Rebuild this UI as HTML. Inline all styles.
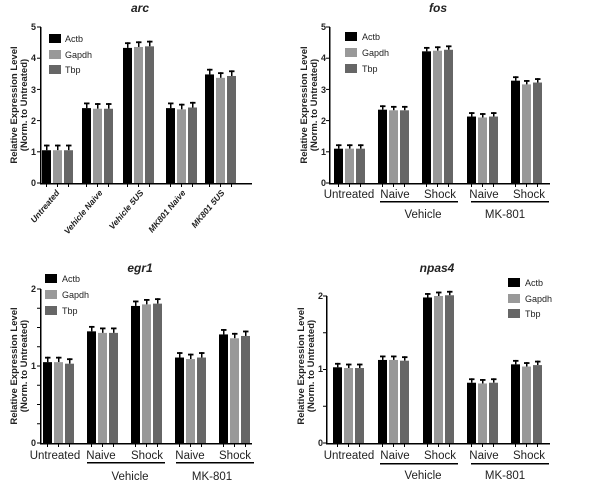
<!DOCTYPE html>
<html><head><meta charset="utf-8"><style>
html,body{margin:0;padding:0;background:#fff}
svg text{font-family:"Liberation Sans",Arial,sans-serif}
</style></head><body>
<svg id="s" width="601" height="492" xmlns="http://www.w3.org/2000/svg">
<g font-size="9" fill="#222">
<!-- arc -->
<text x="140" y="12" font-size="12" font-weight="bold" font-style="italic" text-anchor="middle">arc</text>
<text transform="translate(17,105) rotate(-90)" font-weight="bold" text-anchor="middle" font-size="9.5">Relative Expression Level</text>
<text transform="translate(27,105) rotate(-90)" font-weight="bold" text-anchor="middle" font-size="9.5">(Norm. to  Untreated)</text>
<text x="36" y="186" text-anchor="end" font-weight="bold">0</text>
<text x="36" y="155" text-anchor="end" font-weight="bold">1</text>
<text x="36" y="124" text-anchor="end" font-weight="bold">2</text>
<text x="36" y="93" text-anchor="end" font-weight="bold">3</text>
<text x="36" y="61" text-anchor="end" font-weight="bold">4</text>
<text x="36" y="30" text-anchor="end" font-weight="bold">5</text>
<g font-weight="bold" font-style="italic" font-size="8.5" text-anchor="end">
<text transform="translate(60,193) rotate(-50)">Untreated</text>
<text transform="translate(103,193) rotate(-50)">Vehicle Naive</text>
<text transform="translate(144,193) rotate(-50)">Vehicle 5US</text>
<text transform="translate(186,193) rotate(-50)">MK801 Naive</text>
<text transform="translate(225,193) rotate(-50)">MK801 5US</text>
</g>
<rect x="49" y="34" width="12" height="9" fill="#000"/><text x="65" y="42">Actb</text>
<rect x="49" y="50" width="12" height="9" fill="#999"/><text x="65" y="58">Gapdh</text>
<rect x="49" y="65" width="12" height="9" fill="#666"/><text x="65" y="73">Tbp</text>
<!-- fos -->
<text x="438" y="12" font-size="12" font-weight="bold" font-style="italic" text-anchor="middle">fos</text>
<text transform="translate(307,105) rotate(-90)" font-weight="bold" text-anchor="middle" font-size="9.5">Relative Expression Level</text>
<text transform="translate(317,105) rotate(-90)" font-weight="bold" text-anchor="middle" font-size="9.5">(Norm. to  Untreated)</text>
<text x="326" y="186" text-anchor="end" font-weight="bold">0</text>
<text x="326" y="155" text-anchor="end" font-weight="bold">1</text>
<text x="326" y="124" text-anchor="end" font-weight="bold">2</text>
<text x="326" y="93" text-anchor="end" font-weight="bold">3</text>
<text x="326" y="61" text-anchor="end" font-weight="bold">4</text>
<text x="326" y="30" text-anchor="end" font-weight="bold">5</text>
<g font-size="11.5" text-anchor="middle">
<text x="349" y="198">Untreated</text><text x="395" y="198">Naive</text><text x="440" y="198">Shock</text>
<text x="484" y="198">Naive</text><text x="529" y="198">Shock</text>
<text x="423" y="218">Vehicle</text><text x="505" y="218">MK-801</text>
</g>
<rect x="380" y="201" width="78" height="1.5" fill="#000"/><rect x="471" y="201" width="78" height="1.5" fill="#000"/>
<rect x="345" y="32" width="12" height="9" fill="#000"/><text x="362" y="40">Actb</text>
<rect x="345" y="48" width="12" height="9" fill="#999"/><text x="362" y="56">Gapdh</text>
<rect x="345" y="64" width="12" height="9" fill="#666"/><text x="362" y="72">Tbp</text>
<!-- egr1 -->
<text x="140" y="272" font-size="12" font-weight="bold" font-style="italic" text-anchor="middle">egr1</text>
<text transform="translate(17,366) rotate(-90)" font-weight="bold" text-anchor="middle" font-size="9.5">Relative Expression Level</text>
<text transform="translate(27,366) rotate(-90)" font-weight="bold" text-anchor="middle" font-size="9.5">(Norm. to  Untreated)</text>
<text x="36" y="446" text-anchor="end" font-weight="bold">0</text>
<text x="36" y="369" text-anchor="end" font-weight="bold">1</text>
<text x="36" y="292" text-anchor="end" font-weight="bold">2</text>
<g font-size="11.5" text-anchor="middle">
<text x="55" y="459">Untreated</text><text x="101" y="459">Naive</text><text x="147" y="459">Shock</text>
<text x="190" y="459">Naive</text><text x="235" y="459">Shock</text>
<text x="130" y="480">Vehicle</text><text x="212" y="480">MK-801</text>
</g>
<rect x="87" y="462" width="78" height="1.5" fill="#000"/><rect x="176" y="462" width="78" height="1.5" fill="#000"/>
<rect x="45" y="274" width="12" height="9" fill="#000"/><text x="62" y="282">Actb</text>
<rect x="45" y="290" width="12" height="9" fill="#999"/><text x="62" y="298">Gapdh</text>
<rect x="45" y="306" width="12" height="9" fill="#666"/><text x="62" y="314">Tbp</text>
<!-- npas4 -->
<text x="437" y="272" font-size="12" font-weight="bold" font-style="italic" text-anchor="middle">npas4</text>
<text transform="translate(304,366) rotate(-90)" font-weight="bold" text-anchor="middle" font-size="9.5">Relative Expression Level</text>
<text transform="translate(314,366) rotate(-90)" font-weight="bold" text-anchor="middle" font-size="9.5">(Norm. to  Untreated)</text>
<text x="323" y="446" text-anchor="end" font-weight="bold">0</text>
<text x="323" y="372" text-anchor="end" font-weight="bold">1</text>
<text x="323" y="299" text-anchor="end" font-weight="bold">2</text>
<g font-size="11.5" text-anchor="middle">
<text x="349" y="459">Untreated</text><text x="395" y="459">Naive</text><text x="440" y="459">Shock</text>
<text x="484" y="459">Naive</text><text x="529" y="459">Shock</text>
<text x="423" y="479">Vehicle</text><text x="505" y="479">MK-801</text>
</g>
<rect x="380" y="463" width="78" height="1.5" fill="#000"/><rect x="471" y="463" width="78" height="1.5" fill="#000"/>
<rect x="508" y="278" width="12" height="9" fill="#000"/><text x="525" y="286">Actb</text>
<rect x="508" y="294" width="12" height="9" fill="#999"/><text x="525" y="302">Gapdh</text>
<rect x="508" y="309" width="12" height="9" fill="#666"/><text x="525" y="317">Tbp</text>
</g>
<g id="b"></g>
</svg>
<script>
var P=[
 {ax:41,y0:183,pu:31.2,top:5,end:252,gs:[42,82,123,166,205],tk:5,
  v:[[1.05,1.05,1.05],[2.4,2.38,2.38],[4.33,4.36,4.38],[2.4,2.36,2.42],[3.48,3.37,3.43]],e:0.18},
 {ax:330,y0:183,pu:31.2,top:5,end:550,gs:[334,378,422,467,511],tk:5,
  v:[[1.1,1.1,1.1],[2.35,2.33,2.33],[4.22,4.24,4.27],[2.13,2.1,2.13],[3.28,3.16,3.22]],e:0.14},
 {ax:41,y0:443,pu:77,top:2,end:252,gs:[43,87,131,175,219],tk:8,
  v:[[1.05,1.05,1.03],[1.45,1.43,1.43],[1.78,1.8,1.81],[1.11,1.09,1.11],[1.41,1.36,1.39]],e:0.07},
 {ax:327,y0:443,pu:73.5,top:2,end:550,gs:[333,378,423,467,511],tk:4,
  v:[[1.03,1.02,1.02],[1.13,1.13,1.12],[1.98,2.0,2.01],[0.82,0.81,0.82],[1.07,1.04,1.06]],e:0.06}];
var C=['#000','#999','#666'],h='';
P.forEach(function(p){
 var yt=p.y0-p.top*p.pu;
 h+='<rect x="'+(p.ax-1)+'" y="'+yt+'" width="1.5" height="'+(p.y0-yt+1)+'" fill="#000"/>';
 h+='<rect x="'+(p.ax-1)+'" y="'+p.y0+'" width="'+(p.end-p.ax+1)+'" height="1.5" fill="#000"/>';
 for(var i=0;i<=p.tk;i++){var y=p.y0-i*(p.y0-yt)/p.tk;h+='<rect x="'+(p.ax-4)+'" y="'+(y-0.5)+'" width="4" height="1" fill="#000"/>';}
 p.gs.forEach(function(g,gi){for(var k=0;k<3;k++){
  var x=g+k*11,val=p.v[gi][k],y=p.y0-val*p.pu,ey=y-p.e*p.pu;
  h+='<rect x="'+(x+4)+'" y="'+ey+'" width="1.5" height="'+(y-ey)+'" fill="#000"/>';
  h+='<rect x="'+(x+2)+'" y="'+ey+'" width="5.5" height="1.8" fill="#000"/>';
  h+='<rect x="'+x+'" y="'+y+'" width="9" height="'+(p.y0-y)+'" fill="'+C[k]+'"/>';
  h+='<rect x="'+(x+4)+'" y="'+(p.y0+1)+'" width="1" height="3" fill="#000"/>';
 }});
});
document.getElementById('b').innerHTML=h;
</script>
</body></html>
